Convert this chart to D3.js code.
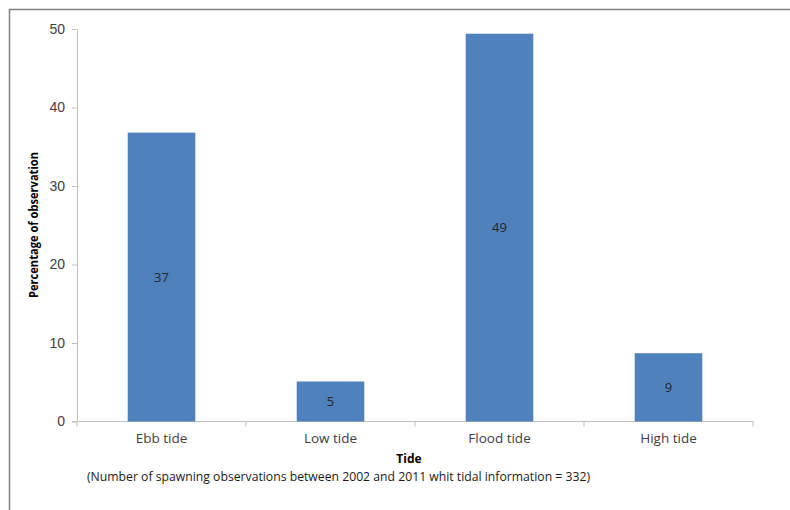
<!DOCTYPE html>
<html>
<head>
<meta charset="utf-8">
<script src="https://cdn.jsdelivr.net/npm/d3@7"></script>
<style>
  body { margin: 0; background: #fff; }
  svg { display: block; font-family: "Open Sans", "DejaVu Sans", sans-serif; }
</style>
</head>
<body>
<svg id="chart" width="790" height="510"></svg>
<script>
// chart data
const categories = ['Ebb tide', 'Low tide', 'Flood tide', 'High tide'];
const percentages = [36.8, 5.1, 49.4, 8.7];
const yTicks = [0, 10, 20, 30, 40, 50];
const xTitle = 'Tide';
const yTitle = 'Percentage of observation';
const note = '(Number of spawning observations between 2002 and 2011 whit tidal information = 332)';

const svg = d3.select('#chart');
const plot = { left: 77, right: 753, top: 29, bottom: 421.5 };

// outer frame (only top and left edges show in the picture)
svg.append('path')
  .attr('d', 'M9.5,520V9.5H800')
  .attr('fill', 'none')
  .attr('stroke', '#808080')
  .attr('stroke-width', 1.5);

const x = d3.scaleBand()
  .domain(categories)
  .range([plot.left, plot.right]);

const y = d3.scaleLinear()
  .domain([0, 50])
  .range([plot.bottom, plot.top]);

// y axis
const yAxis = svg.append('g')
  .attr('transform', `translate(${plot.left},0)`)
  .call(d3.axisLeft(y).tickValues(yTicks).tickSize(5).tickPadding(7).tickSizeOuter(0));
yAxis.select('.domain').attr('stroke', '#bfbfbf');
yAxis.selectAll('.tick line').attr('stroke', '#bfbfbf');
yAxis.selectAll('.tick text')
  .attr('fill', '#404040')
  .style('font-size', '14px');

// x axis with ticks at band edges
const xAxis = svg.append('g')
  .attr('transform', `translate(0,${plot.bottom})`);
xAxis.append('line')
  .attr('x1', plot.left - 5).attr('x2', plot.right)
  .attr('stroke', '#bfbfbf');
const edges = categories.map(c => x(c)).concat([x(categories[categories.length - 1]) + x.bandwidth()]);
xAxis.selectAll('.edge')
  .data(edges)
  .join('line')
  .attr('class', 'edge')
  .attr('x1', d => d).attr('x2', d => d)
  .attr('y1', 0).attr('y2', 5)
  .attr('stroke', '#bfbfbf');
xAxis.selectAll('.cat')
  .data(categories)
  .join('text')
  .attr('class', 'cat')
  .attr('x', d => x(d) + x.bandwidth() / 2)
  .attr('y', 21)
  .attr('text-anchor', 'middle')
  .attr('fill', '#404040')
  .style('font-size', '13.5px')
  .text(d => d);

// bars
const barW = x.bandwidth() * 0.4;
const bars = svg.append('g');
bars.selectAll('rect')
  .data(percentages)
  .join('rect')
  .attr('x', (d, i) => x(categories[i]) + (x.bandwidth() - barW) / 2)
  .attr('y', d => y(d))
  .attr('width', barW)
  .attr('height', d => y(0) - y(d))
  .attr('fill', '#4f81bd');

// value labels in the middle of each bar
bars.selectAll('text')
  .data(percentages)
  .join('text')
  .attr('x', (d, i) => x(categories[i]) + x.bandwidth() / 2)
  .attr('y', d => (y(d) + y(0)) / 2)
  .attr('dy', '0.35em')
  .attr('text-anchor', 'middle')
  .attr('fill', '#262626')
  .style('font-size', '13px')
  .text(d => d3.format('.0f')(d));

// titles
svg.append('text')
  .attr('x', 409).attr('y', 463)
  .attr('text-anchor', 'middle')
  .style('font-size', '12px')
  .style('font-weight', 'bold')
  .attr('fill', '#000')
  .text(xTitle);

svg.append('text')
  .attr('transform', 'translate(38,225) rotate(-90)')
  .attr('text-anchor', 'middle')
  .attr('textLength', 146)
  .attr('lengthAdjust', 'spacingAndGlyphs')
  .style('font-size', '12px')
  .style('font-weight', 'bold')
  .attr('fill', '#000')
  .text(yTitle);

svg.append('text')
  .attr('x', 87).attr('y', 481)
  .attr('textLength', 503)
  .attr('lengthAdjust', 'spacingAndGlyphs')
  .style('font-size', '12px')
  .attr('fill', '#1a1a1a')
  .text(note);
</script>
</body>
</html>
